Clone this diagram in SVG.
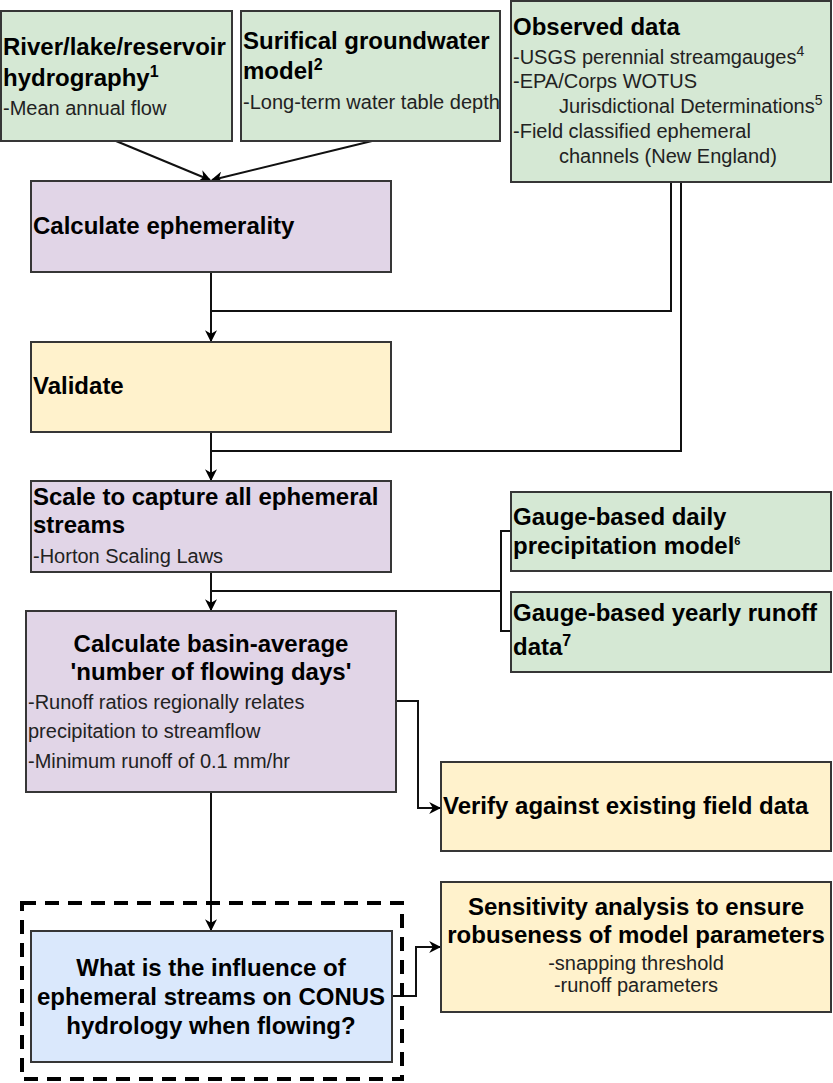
<svg xmlns="http://www.w3.org/2000/svg" width="833" height="1083" viewBox="0 0 833 1083">
<defs>
<style>
.box{stroke:#363636;stroke-width:2}
.g{fill:#d5e8d4}.p{fill:#e1d5e7}.y{fill:#fff2cc}.b{fill:#dae8fc}
.t{font-family:"Liberation Sans",Arial,sans-serif;font-size:24px;font-weight:bold;fill:#000}
.s{font-family:"Liberation Sans",Arial,sans-serif;font-size:20px;fill:#222}
.c{text-anchor:middle}
.ln{fill:none;stroke:#111;stroke-width:2}
.sup{font-size:16px}
</style>
<marker id="ah2" viewBox="0 0 10 10" refX="9" refY="5" markerWidth="12" markerHeight="12" orient="auto" markerUnits="userSpaceOnUse">
<path d="M0,0 L10,5 L0,10 L3,5 z" fill="#000"/>
</marker>
</defs>
<rect width="833" height="1083" fill="#fff"/>

<g id="connectors">
<line class="ln" x1="116" y1="141" x2="210" y2="180" marker-end="url(#ah2)"/>
<line class="ln" x1="372" y1="141" x2="212" y2="180" marker-end="url(#ah2)"/>
<line class="ln" x1="211" y1="272" x2="211" y2="341" marker-end="url(#ah2)"/>
<polyline class="ln" points="671,182 671,311 211,311"/>
<line class="ln" x1="211" y1="432" x2="211" y2="480" marker-end="url(#ah2)"/>
<polyline class="ln" points="681,182 681,451 211,451"/>
<line class="ln" x1="211" y1="572" x2="211" y2="610" marker-end="url(#ah2)"/>
<polyline class="ln" points="511,531 501,531 501,631 511,631"/>
<line class="ln" x1="501" y1="591" x2="211" y2="591"/>
<polyline class="ln" points="396,701 418,701 418,808 440,808" marker-end="url(#ah2)"/>
<line class="ln" x1="211" y1="792" x2="211" y2="930" marker-end="url(#ah2)"/>
<polyline class="ln" points="392,996 416,996 416,947 440,947" marker-end="url(#ah2)"/>
</g>

<g id="river">
<rect class="box g" x="1" y="11" width="231" height="130"/>
<text class="t" x="3" y="55">River/lake/reservoir</text>
<text class="t" x="3" y="86">hydrography<tspan class="sup" dy="-9">1</tspan></text>
<text class="s" x="3" y="115">-Mean annual flow</text>
</g>

<g id="groundwater">
<rect class="box g" x="241" y="11" width="259" height="130"/>
<text class="t" x="243" y="49">Surifical groundwater</text>
<text class="t" x="243" y="79">model<tspan class="sup" dy="-9">2</tspan></text>
<text class="s" x="243" y="109">-Long-term water table depth</text>
</g>

<g id="observed">
<rect class="box g" x="511" y="1" width="320" height="181"/>
<text class="t" x="513" y="35">Observed data</text>
<text class="s" x="513" y="64">-USGS perennial streamgauges<tspan font-size="14" dy="-8">4</tspan></text>
<text class="s" x="513" y="88">-EPA/Corps WOTUS</text>
<text class="s" x="559" y="113">Jurisdictional Determinations<tspan font-size="14" dy="-8">5</tspan></text>
<text class="s" x="513" y="138">-Field classified ephemeral</text>
<text class="s" x="559" y="163">channels (New England)</text>
</g>

<g id="calc-eph">
<rect class="box p" x="31" y="181" width="360" height="91"/>
<text class="t" x="33" y="234">Calculate ephemerality</text>
</g>

<g id="validate">
<rect class="box y" x="31" y="342" width="360" height="90"/>
<text class="t" x="33" y="394">Validate</text>
</g>

<g id="scale">
<rect class="box p" x="31" y="481" width="360" height="91"/>
<text class="t" x="33" y="505">Scale to capture all ephemeral</text>
<text class="t" x="33" y="533">streams</text>
<text class="s" x="33" y="563">-Horton Scaling Laws</text>
</g>

<g id="basin">
<rect class="box p" x="26" y="611" width="370" height="181"/>
<text class="t c" x="211" y="652">Calculate basin-average</text>
<text class="t c" x="211" y="680">'number of flowing days'</text>
<text class="s" x="28" y="709">-Runoff ratios regionally relates</text>
<text class="s" x="28" y="738">precipitation to streamflow</text>
<text class="s" x="28" y="768">-Minimum runoff of 0.1 mm/hr</text>
</g>

<g id="precip">
<rect class="box g" x="511" y="492" width="320" height="79"/>
<text class="t" x="513" y="525">Gauge-based daily</text>
<text class="t" x="513" y="554">precipitation model<tspan font-size="11" dy="-9">6</tspan></text>
</g>

<g id="runoff">
<rect class="box g" x="511" y="592" width="320" height="80"/>
<text class="t" x="513" y="621">Gauge-based yearly runoff</text>
<text class="t" x="513" y="655">data<tspan class="sup" dy="-9">7</tspan></text>
</g>

<g id="verify">
<rect class="box y" x="441" y="762" width="390" height="89"/>
<text class="t" x="443" y="814">Verify against existing field data</text>
</g>

<g id="question-frame">
<rect x="22" y="903" width="380" height="176" fill="none" stroke="#000" stroke-width="4" stroke-dasharray="14 9"/>
</g>

<g id="question">
<rect class="box b" x="31" y="931" width="361" height="131"/>
<text class="t c" x="211" y="976">What is the influence of</text>
<text class="t c" x="211" y="1005">ephemeral streams on CONUS</text>
<text class="t c" x="211" y="1034">hydrology when flowing?</text>
</g>

<g id="sensitivity">
<rect class="box y" x="441" y="882" width="390" height="130"/>
<text class="t c" x="636" y="915">Sensitivity analysis to ensure</text>
<text class="t c" x="636" y="943">robuseness of model parameters</text>
<text class="s c" x="636" y="970">-snapping threshold</text>
<text class="s c" x="636" y="992">-runoff parameters</text>
</g>
</svg>
